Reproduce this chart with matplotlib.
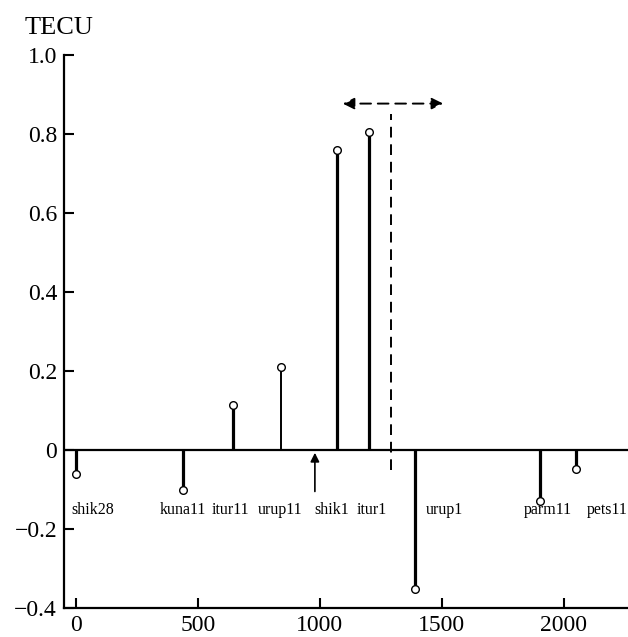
import matplotlib.pyplot as plt

plt.rcParams['font.family'] = ['Liberation Serif', 'DejaVu Serif']

# stations, distance along track and TEC amplitude
stations = ['shik28', 'kuna11', 'itur11', 'urup11', 'shik1', 'itur1', 'urup1', 'parm11', 'pets11']
dist = [0, 440, 645, 840, 1069, 1203, 1390, 1903, 2050]
tec = [-0.06, -0.10, 0.115, 0.21, 0.76, 0.805, -0.352, -0.128, -0.048]
label_x = [68, 440, 636, 838, 1050, 1214, 1512, 1936, 2177]
thin = ['urup11']

arrow_x = 980
front_x = 1292

fig = plt.figure(figsize=(6.28, 6.37), dpi=100)
ax = fig.add_axes([64 / 628, 29 / 637, 1 - 64 / 628, 553 / 637])

ax.axhline(0, color='black', lw=1.6, zorder=2)

for name, x, v in zip(stations, dist, tec):
    lw = 1.4 if name in thin else 2.3
    ax.plot([x, x], [0, v], color='black', lw=lw, solid_capstyle='butt', zorder=3)
    ax.plot(x, v, 'o', ms=5.5, mfc='white', mec='black', mew=1.0, zorder=4)

for name, lx in zip(stations, label_x):
    ax.text(lx, -0.153, name, ha='center', va='center', fontsize=11.5)

# arrow pointing at the zero line
ax.annotate('', xy=(arrow_x, 0), xytext=(arrow_x, -0.112),
            arrowprops=dict(arrowstyle='-|>', color='black', lw=1.2, mutation_scale=13))

# dashed front line and double arrow
ax.plot([front_x, front_x], [-0.05, 0.85], color='black', lw=1.4, ls=(0, (5.5, 3.5)))
ax.annotate('', xy=(1083, 0.877), xytext=(1517, 0.877),
            arrowprops=dict(arrowstyle='<|-|>', color='black', lw=1.4,
                            ls=(0, (5.5, 3.5)), mutation_scale=17))

ax.set_xlim(-48, 2263)
ax.set_ylim(-0.4, 1.0)
ax.set_xticks([0, 500, 1000, 1500, 2000])
ax.set_yticks([-0.4, -0.2, 0, 0.2, 0.4, 0.6, 0.8, 1.0])
ax.set_yticklabels(['\u22120.4', '\u22120.2', '0', '0.2', '0.4', '0.6', '0.8', '1.0'])
ax.tick_params(direction='in', length=7, width=1.5, labelsize=17, pad=5)
ax.spines['top'].set_visible(False)
ax.spines['right'].set_visible(False)
for s in ['left', 'bottom']:
    ax.spines[s].set_linewidth(1.6)

fig.text(25 / 628, 1 - 28 / 637, 'TECU', fontsize=19, va='center', ha='left')

fig.savefig('out.png', dpi=100)
